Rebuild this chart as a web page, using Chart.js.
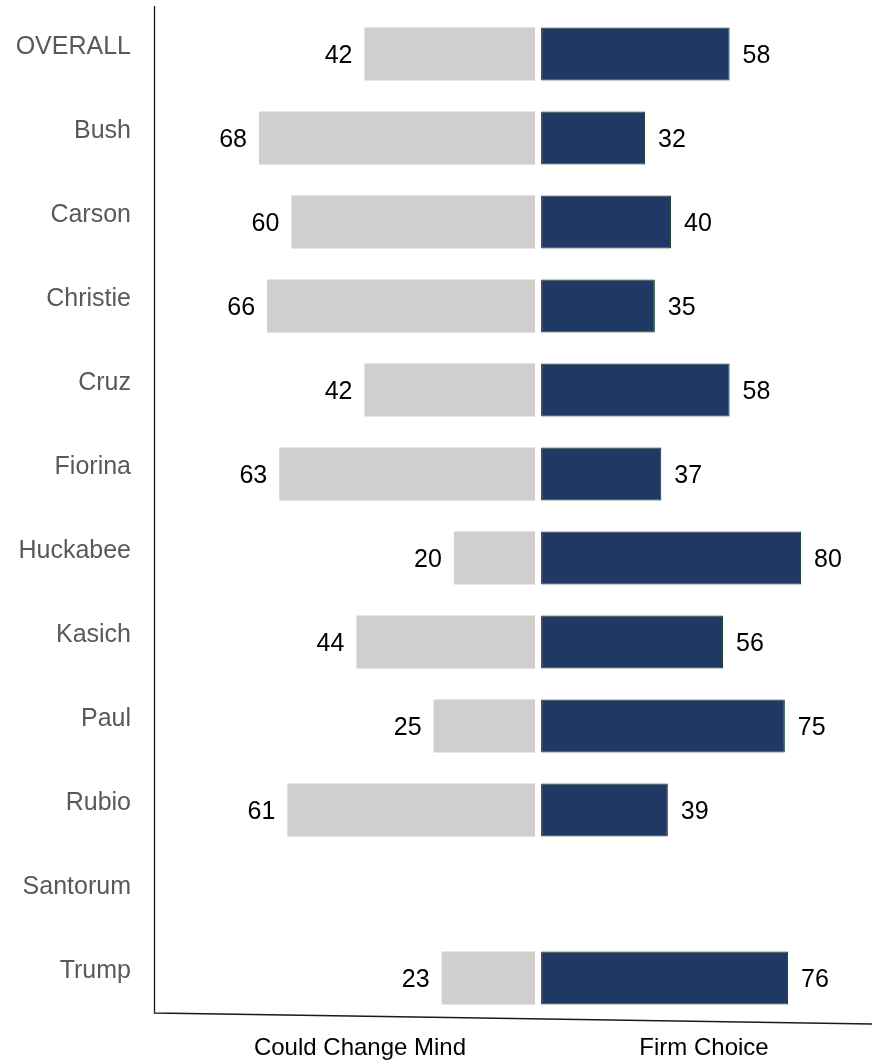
<!DOCTYPE html>
<html>
<head>
<meta charset="utf-8">
<script src="https://cdn.jsdelivr.net/npm/chart.js@4"></script>
<style>
  html, body { margin: 0; padding: 0; background: #fff; }
  #wrap { width: 872px; height: 1063px; position: relative; }
</style>
</head>
<body>
<div id="wrap"><canvas id="firmChart"></canvas></div>
<script>
// candidates, top to bottom
const categories = ['OVERALL', 'Bush', 'Carson', 'Christie', 'Cruz', 'Fiorina',
    'Huckabee', 'Kasich', 'Paul', 'Rubio', 'Santorum', 'Trump'];
// percent values (Santorum has no data)
const couldChangeMind = [42, 68, 60, 66, 42, 63, 20, 44, 25, 61, null, 23];
const firmChoice = [58, 32, 40, 35, 58, 37, 80, 56, 75, 39, null, 76];
const sideLabels = ['Could Change Mind', 'Firm Choice'];

const FONT = '"Liberation Sans", Arial, sans-serif';

// value labels at bar ends + axis decorations
const decorPlugin = {
    id: 'decor',
    afterDatasetsDraw(chart) {
        const ctx = chart.ctx;
        const area = chart.chartArea;
        ctx.save();
        ctx.font = '25px ' + FONT;
        ctx.fillStyle = '#000';
        ctx.textBaseline = 'middle';
        chart.data.datasets.forEach(function(ds, di) {
            const meta = chart.getDatasetMeta(di);
            meta.data.forEach(function(bar, i) {
                const v = ds.data[i];
                if (v === null || v === undefined) return;
                if (di === 0) {
                    ctx.textAlign = 'right';
                    ctx.fillText(String(v), bar.x - 12, bar.y + 2);
                } else {
                    ctx.textAlign = 'left';
                    ctx.fillText(String(v), bar.x + 13, bar.y + 2);
                }
            });
        });

        // left axis line and the slanted bottom line
        ctx.strokeStyle = '#1a1a1a';
        ctx.lineWidth = 1.3;
        ctx.beginPath();
        ctx.moveTo(area.left - 0.5, area.top - 6);
        ctx.lineTo(area.left - 0.5, area.bottom - 7);
        ctx.lineTo(872, area.bottom + 4);
        ctx.stroke();

        // side captions
        ctx.font = '24px ' + FONT;
        ctx.textAlign = 'center';
        ctx.fillText(sideLabels[0], 360, 1048);
        ctx.fillText(sideLabels[1], 704, 1048);
        ctx.restore();
    }
};

const canvas = document.getElementById('firmChart');
const chart = new Chart(canvas.getContext('2d'), {
    type: 'bar',
    data: {
        labels: categories,
        datasets: [{
            label: sideLabels[0],
            data: couldChangeMind,
            backgroundColor: '#d0cece',
            borderWidth: 0,
            xAxisID: 'xLeft'
        }, {
            label: sideLabels[1],
            data: firmChoice,
            backgroundColor: '#203864',
            borderColor: '#10381c',
            borderWidth: 1,
            borderSkipped: false,
            xAxisID: 'xRight'
        }]
    },
    options: {
        indexAxis: 'y',
        responsive: true,
        maintainAspectRatio: false,
        animation: false,
        grouped: false,
        barPercentage: 0.63,
        categoryPercentage: 1,
        layout: {
            padding: { top: 12, right: 2, bottom: 43, left: 0 }
        },
        plugins: {
            legend: { display: false },
            tooltip: { enabled: false }
        },
        scales: {
            xLeft: {
                type: 'linear',
                position: 'bottom',
                reverse: true,
                min: -82.5,
                max: 93.6,
                display: false
            },
            xRight: {
                type: 'linear',
                position: 'bottom',
                min: -118.8,
                max: 101.2,
                ticks: { display: false, stepSize: 20 },
                border: { display: false },
                grid: {
                    drawTicks: false,
                    lineWidth: 1,
                    color: function(c) {
                        return c.tick && c.tick.value === 0 ? '#1a1a1a' : 'rgba(0,0,0,0)';
                    }
                }
            },
            y: {
                type: 'category',
                position: 'left',
                border: { display: false },
                grid: { display: false, drawTicks: false },
                ticks: {
                    color: '#595959',
                    font: { family: FONT, size: 25 },
                    padding: 24,
                    labelOffset: -7
                },
                afterFit: function(scale) {
                    scale.width = 155;
                    scale.paddingTop = 0;
                    scale.paddingBottom = 0;
                }
            }
        }
    },
    plugins: [decorPlugin]
});
</script>
</body>
</html>
